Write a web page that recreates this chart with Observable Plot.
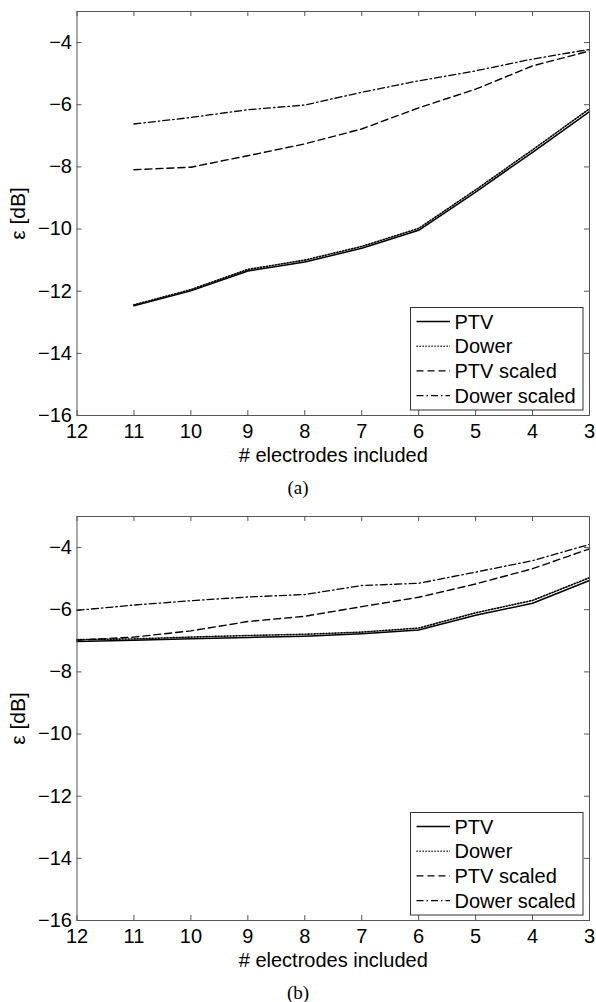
<!DOCTYPE html>
<html><head><meta charset="utf-8">
<script src="https://cdn.jsdelivr.net/npm/d3@7"></script>
<script src="https://cdn.jsdelivr.net/npm/@observablehq/plot@0.6"></script>
<style>
body{margin:0;background:#fff;}
#root{position:relative;width:596px;height:1002px;font-family:"Liberation Sans",Arial,sans-serif;overflow:hidden;}
.panel{position:absolute;left:0;width:596px;}
.caption{position:absolute;left:0;width:596px;text-align:center;font-family:"Liberation Serif","Times New Roman",serif;font-size:19px;line-height:19px;}
</style></head><body><div id="root"></div>
<script>
// ---- data ----
const seriesNames = ["PTV", "Dower", "PTV scaled", "Dower scaled"];
const xTicks = [12, 11, 10, 9, 8, 7, 6, 5, 4, 3];
const yTicks = [-16, -14, -12, -10, -8, -6, -4];

// panel (a)
const electrodesA = [11, 10, 9, 8, 7, 6, 5, 4, 3];
const ptvA         = [-12.47, -11.99, -11.35, -11.06, -10.62, -10.04, -8.81, -7.53, -6.22];
const dowerA       = [-12.44, -11.95, -11.30, -11.00, -10.56, -9.98, -8.74, -7.45, -6.13];
const ptvScaledA   = [-8.09, -8.01, -7.64, -7.26, -6.78, -6.10, -5.50, -4.75, -4.27];
const dowerScaledA = [-6.62, -6.41, -6.16, -6.01, -5.60, -5.23, -4.91, -4.53, -4.22];

// panel (b)
const electrodesB = [12, 11, 10, 9, 8, 7, 6, 5, 4, 3];
const ptvB         = [-7.02, -6.98, -6.93, -6.89, -6.85, -6.77, -6.65, -6.18, -5.79, -5.06];
const dowerB       = [-6.96, -6.94, -6.88, -6.83, -6.79, -6.72, -6.59, -6.10, -5.70, -4.97];
const ptvScaledB   = [-6.98, -6.88, -6.68, -6.38, -6.21, -5.90, -5.60, -5.17, -4.68, -4.04];
const dowerScaledB = [-6.02, -5.85, -5.71, -5.59, -5.51, -5.22, -5.15, -4.79, -4.42, -3.90];

// ---- styles ----
const lineStyles = {
  "PTV":          {dash: null,        width: 1.5},
  "Dower":        {dash: "1.2,1.8",   width: 1.6},
  "PTV scaled":   {dash: "7,4",       width: 1.4},
  "Dower scaled": {dash: "7,3,1.5,3", width: 1.3}
};
const AX = "#555";
const FONT = "'Liberation Sans', Arial, sans-serif";

const root = document.getElementById("root");

function makePanel(xs, valueArrays, top, caption) {
  const data = [];
  valueArrays.forEach((vals, k) => vals.forEach((v, i) => data.push({x: xs[i], y: v, name: seriesNames[k]})));
  const W = 596, H = 470, mt = 11, mb = 55, ml = 76.5, mr = 7;
  const ph = H - mt - mb, pw = W - ml - mr;
  const plot = Plot.plot({
    width: W, height: H,
    marginTop: mt, marginBottom: mb, marginLeft: ml, marginRight: mr,
    style: {fontFamily: FONT, fontSize: "20px", color: "#000", background: "#fff", overflow: "visible"},
    x: {domain: [12, 3], ticks: xTicks},
    y: {domain: [-16, -3], ticks: yTicks},
    marks: [
      Plot.tickX(xTicks, {x: d => d, stroke: AX, insetTop: ph - 5}),
      Plot.tickX(xTicks, {x: d => d, stroke: AX, insetBottom: ph - 5}),
      Plot.tickY(yTicks, {y: d => d, stroke: AX, insetRight: pw - 5}),
      Plot.tickY(yTicks, {y: d => d, stroke: AX, insetLeft: pw - 5}),
      ...seriesNames.map(n => Plot.line(data.filter(d => d.name === n), {
        x: "x", y: "y", stroke: "#000",
        strokeWidth: lineStyles[n].width,
        strokeDasharray: lineStyles[n].dash
      })),
      Plot.frame({stroke: AX}),
      Plot.axisX({ticks: xTicks, tickSize: 0, tickPadding: 8, label: null}),
      Plot.axisX({ticks: [], tickSize: 0, label: "# electrodes included", labelAnchor: "center", labelArrow: "none", labelOffset: 46}),
      Plot.axisY({ticks: yTicks, tickSize: 0, tickPadding: 5, label: null}),
      Plot.axisY({ticks: [], tickSize: 0, label: "ε [dB]", labelAnchor: "center", labelArrow: "none", labelOffset: 67, fontSize: 21})
    ]
  });
  const wrap = document.createElement("div");
  wrap.className = "panel";
  wrap.style.top = top + "px";
  wrap.appendChild(plot);
  root.appendChild(wrap);

  // legend box (inside plot area, lower right)
  const lg = d3.select(root).append("svg")
    .attr("width", 174).attr("height", 104)
    .style("position", "absolute").style("left", "410px").style("top", (top + 307) + "px");
  lg.append("rect").attr("x", 0.5).attr("y", 0.5).attr("width", 172.5).attr("height", 102.5)
    .attr("fill", "#fff").attr("stroke", "#333").attr("stroke-width", 1);
  seriesNames.forEach((n, i) => {
    const cy = 14.5 + i * 24.7;
    lg.append("line").attr("x1", 6.5).attr("x2", 40).attr("y1", cy).attr("y2", cy)
      .attr("stroke", "#000").attr("stroke-width", lineStyles[n].width)
      .attr("stroke-dasharray", lineStyles[n].dash);
    lg.append("text").attr("x", 44.5).attr("y", cy).attr("dy", "0.35em")
      .attr("font-family", FONT).attr("font-size", 20).text(n);
  });

  const cap = document.createElement("div");
  cap.className = "caption";
  cap.style.top = (top + 478) + "px";
  cap.textContent = caption;
  root.appendChild(cap);
}

makePanel(electrodesA, [ptvA, dowerA, ptvScaledA, dowerScaledA], 0, "(a)");
makePanel(electrodesB, [ptvB, dowerB, ptvScaledB, dowerScaledB], 505, "(b)");
</script>
</body></html>
